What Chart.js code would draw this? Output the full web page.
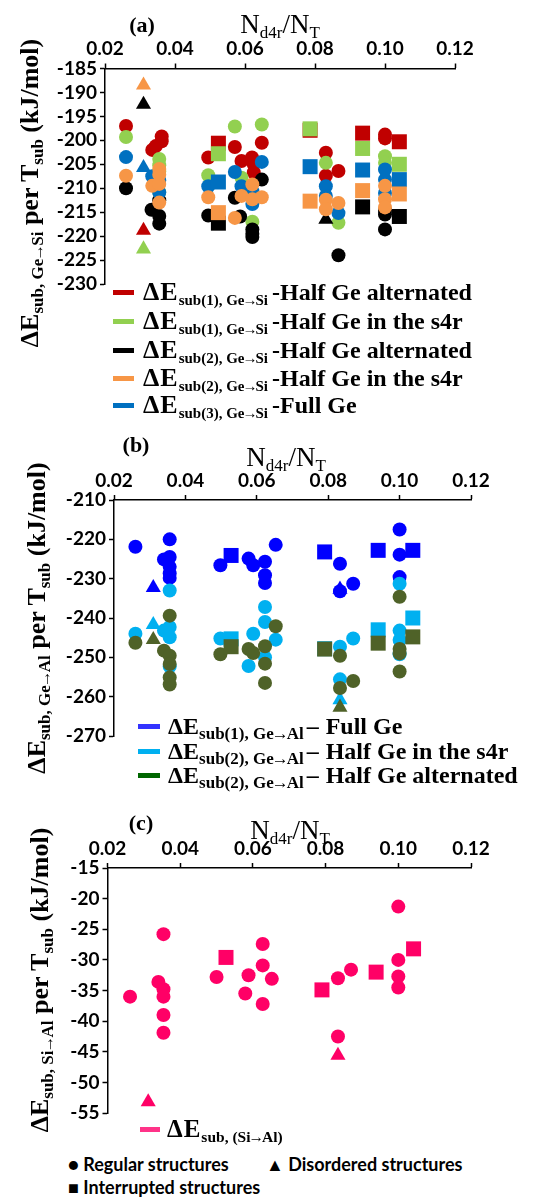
<!DOCTYPE html>
<html>
<head>
<meta charset="utf-8">
<script src="https://cdn.jsdelivr.net/npm/chart.js@4/dist/chart.umd.min.js"></script>
<style>
  body { margin: 0; background: #fff; }
  #page { position: relative; width: 537px; height: 1203px; overflow: hidden; }
  canvas { position: absolute; left: 0; }
  .t { position: absolute; white-space: nowrap; font-family: 'Liberation Serif', serif; color: #000; z-index: 2; }
  .t sub { vertical-align: -5px; line-height: 0; }
  .xt { font-size: 27px; transform: translate(-50%, -50%); }
  .xt sub { font-size: 17px; }
  .lab { font-size: 22px; font-weight: bold; transform: translate(-50%, -50%); }
  .yt { font-size: 26px; font-weight: bold; transform: translate(-50%, -50%) rotate(-90deg); }
  .yt sub { font-size: 17px; }
  .lg { position: absolute; height: 28px; line-height: 28px; white-space: nowrap;
        font-family: 'Liberation Serif', serif; font-weight: bold; z-index: 2; }
  .lg sub { font-size: 15px; vertical-align: -5px; line-height: 0; }
  .lg .de { font-size: 26px; letter-spacing: 1px; }
  .lg .rest { margin-left: 4px; }
  .lb sub { font-size: 17px; }
  .lb .de { font-size: 24px; letter-spacing: 0; }
  .lb .dash { margin-left: 3px; }
  .lb .rest { margin-left: 7px; }
  .ar { margin: 0 -2px; }
  .sw { display: inline-block; width: 21px; height: 5px; margin-right: 9px; vertical-align: 5px; }
  .mk { position: absolute; font-family: Lato, sans-serif; font-weight: bold; font-size: 18px; white-space: nowrap; }
</style>
</head>
<body>
<div id="page">
  <canvas id="chartA" width="537" height="300" style="top:0"></canvas>
  <canvas id="chartB" width="537" height="350" style="top:400px"></canvas>
  <canvas id="chartC" width="537" height="330" style="top:800px"></canvas>

  <!-- panel (a) -->
  <div class="t lab" style="left:142px; top:25px">(a)</div>
  <div class="t xt" style="left:280px; top:24px">N<sub>d4r</sub>/N<sub>T</sub></div>
  <div class="t yt" style="left:30px; top:193px">ΔE<sub>sub, Ge<span class="ar">→</span>Si</sub> per T<sub>sub</sub> (kJ/mol)</div>
  <div class="lg" style="left:113px; top:278px; font-size:24px"><span class="sw" style="background:#C00000"></span><span class="de">ΔE</span><sub>sub(1), Ge<span class="ar">→</span>Si</sub><span class="rest">-Half Ge alternated</span></div>
  <div class="lg" style="left:113px; top:307px; font-size:24px"><span class="sw" style="background:#92D050"></span><span class="de">ΔE</span><sub>sub(1), Ge<span class="ar">→</span>Si</sub><span class="rest">-Half Ge in the s4r</span></div>
  <div class="lg" style="left:113px; top:336px; font-size:24px"><span class="sw" style="background:#000"></span><span class="de">ΔE</span><sub>sub(2), Ge<span class="ar">→</span>Si</sub><span class="rest">-Half Ge alternated</span></div>
  <div class="lg" style="left:113px; top:364px; font-size:24px"><span class="sw" style="background:#F79646"></span><span class="de">ΔE</span><sub>sub(2), Ge<span class="ar">→</span>Si</sub><span class="rest">-Half Ge in the s4r</span></div>
  <div class="lg" style="left:113px; top:391px; font-size:24px"><span class="sw" style="background:#0070C0"></span><span class="de">ΔE</span><sub>sub(3), Ge<span class="ar">→</span>Si</sub><span class="rest">-Full Ge</span></div>

  <!-- panel (b) -->
  <div class="t lab" style="left:136px; top:445px">(b)</div>
  <div class="t xt" style="left:286px; top:457px">N<sub>d4r</sub>/N<sub>T</sub></div>
  <div class="t yt" style="left:37px; top:618px">ΔE<sub>sub, Ge<span class="ar">→</span>Al</sub> per T<sub>sub</sub> (kJ/mol)</div>
  <div class="lg lb" style="left:138px; top:712px; font-size:24px"><span class="sw" style="background:#3333FF; width:22px; margin-right:8px"></span><span class="de">ΔE</span><sub>sub(1), Ge<span class="ar">→</span>Al</sub><span class="dash">–</span><span class="rest">Full Ge</span></div>
  <div class="lg lb" style="left:138px; top:737px; font-size:24px"><span class="sw" style="background:#00B0F0; width:22px; margin-right:8px"></span><span class="de">ΔE</span><sub>sub(2), Ge<span class="ar">→</span>Al</sub><span class="dash">–</span><span class="rest">Half Ge in the s4r</span></div>
  <div class="lg lb" style="left:138px; top:761px; font-size:24px"><span class="sw" style="background:#006600; width:22px; margin-right:8px"></span><span class="de">ΔE</span><sub>sub(2), Ge<span class="ar">→</span>Al</sub><span class="dash">–</span><span class="rest">Half Ge alternated</span></div>

  <!-- panel (c) -->
  <div class="t lab" style="left:141px; top:823px">(c)</div>
  <div class="t xt" style="left:290px; top:830px">N<sub>d4r</sub>/N<sub>T</sub></div>
  <div class="t yt" style="left:40px; top:980px">ΔE<sub>sub, Si<span class="ar">→</span>Al</sub> per T<sub>sub</sub> (kJ/mol)</div>
  <div class="lg" style="left:140px; top:1115px; font-size:24px"><span class="sw" style="background:#FF3388; width:20px; margin-right:7px"></span><span class="de" style="font-size:25px">ΔE</span><sub style="font-size:15.5px">sub, (Si<span class="ar">→</span>Al)</sub></div>
  <div class="mk" style="left:68px; top:1153px">● Regular structures</div>
  <div class="mk" style="left:266px; top:1153px">▲ Disordered structures</div>
  <div class="mk" style="left:68px; top:1176px">■ Interrupted structures</div>
</div>

<script>
// [x = Nd4r/NT, y = energy, shape]  c = regular, t = disordered, s = interrupted
// panel (a) : Ge -> Si
const aSub1HalfAlt = [
    [0.026, -197.0, 'c'], [0.031, -218.8, 't'], [0.0362, -199.2, 'c'], [0.0362, -200.2, 'c'],
    [0.0345, -201.2, 'c'], [0.0335, -202.0, 'c'], [0.0495, -203.6, 'c'], [0.0524, -200.6, 's'],
    [0.0571, -201.4, 'c'], [0.059, -204.3, 'c'], [0.062, -203.6, 'c'], [0.0625, -205.0, 'c'],
    [0.0625, -206.7, 'c'], [0.0648, -200.5, 'c'], [0.0786, -197.9, 's'], [0.0831, -202.6, 'c'],
    [0.0831, -207.4, 'c'], [0.0867, -206.4, 'c'], [0.0936, -198.5, 's'], [0.100, -198.8, 'c'],
    [0.100, -199.6, 'c'], [0.1041, -200.3, 's']
];
const aSub1HalfS4r = [
    [0.026, -199.3, 'c'], [0.031, -222.7, 't'], [0.0355, -203.9, 'c'], [0.0355, -205.2, 'c'],
    [0.0355, -206.5, 'c'], [0.0355, -210.8, 'c'], [0.0495, -207.3, 'c'], [0.0524, -202.8, 's'],
    [0.0571, -197.1, 'c'], [0.059, -207.8, 'c'], [0.0621, -217.0, 'c'], [0.0648, -196.7, 'c'],
    [0.0786, -197.6, 's'], [0.0831, -204.7, 'c'], [0.0867, -217.2, 'c'], [0.0936, -201.7, 's'],
    [0.100, -203.3, 'c'], [0.100, -204.7, 'c'], [0.1041, -205.0, 's']
];
const aSub2HalfAlt = [
    [0.026, -210.0, 'c'], [0.031, -192.5, 't'], [0.0333, -214.5, 'c'], [0.0355, -212.5, 'c'],
    [0.0355, -215.8, 'c'], [0.0355, -217.4, 'c'], [0.0495, -215.7, 'c'], [0.0524, -217.3, 's'],
    [0.0571, -212.0, 'c'], [0.0586, -215.9, 'c'], [0.0621, -218.6, 'c'], [0.0621, -219.5, 'c'],
    [0.0621, -220.2, 'c'], [0.0648, -208.2, 'c'], [0.0831, -216.5, 't'], [0.0867, -224.0, 'c'],
    [0.0936, -213.9, 's'], [0.100, -214.7, 'c'], [0.100, -215.5, 'c'], [0.100, -218.6, 'c'],
    [0.1041, -215.9, 's']
];
const aSub2HalfS4r = [
    [0.026, -207.4, 'c'], [0.031, -188.5, 't'], [0.0355, -206.0, 'c'], [0.0355, -207.2, 'c'],
    [0.0335, -209.5, 'c'], [0.0355, -209.1, 'c'], [0.0355, -213.0, 'c'], [0.0495, -211.9, 'c'],
    [0.0524, -215.1, 's'], [0.0571, -216.2, 'c'], [0.059, -211.6, 'c'], [0.0621, -209.2, 'c'],
    [0.0621, -212.3, 'c'], [0.0648, -211.9, 'c'], [0.0786, -212.7, 's'], [0.0831, -212.4, 'c'],
    [0.0831, -214.4, 'c'], [0.0867, -213.1, 'c'], [0.0936, -210.5, 's'], [0.100, -209.5, 'c'],
    [0.100, -212.3, 'c'], [0.100, -214.0, 'c'], [0.1041, -211.2, 's']
];
const aSub3FullGe = [
    [0.026, -203.5, 'c'], [0.031, -205.7, 't'], [0.0335, -207.5, 'c'], [0.0355, -208.4, 'c'],
    [0.0355, -210.9, 'c'], [0.0495, -209.6, 'c'], [0.0524, -208.7, 's'], [0.0571, -206.6, 'c'],
    [0.059, -209.6, 'c'], [0.0621, -210.6, 'c'], [0.0621, -213.3, 'c'], [0.0648, -204.5, 'c'],
    [0.0786, -205.5, 's'], [0.0831, -209.6, 'c'], [0.0831, -211.6, 'c'], [0.0867, -215.2, 'c'],
    [0.0936, -206.2, 's'], [0.100, -206.1, 'c'], [0.100, -208.2, 'c'], [0.100, -211.0, 'c'],
    [0.1041, -208.2, 's']
];

// panel (b) : Ge -> Al
const bSub1FullGe = [
    [0.026, -221.9, 'c'], [0.031, -232.3, 't'], [0.0356, -220.0, 'c'], [0.034, -225.1, 'c'],
    [0.0356, -224.5, 'c'], [0.0356, -227.0, 'c'], [0.0356, -228.7, 'c'], [0.0356, -229.8, 'c'],
    [0.0498, -226.6, 'c'], [0.0528, -224.1, 's'], [0.0577, -224.9, 'c'], [0.059, -226.6, 'c'],
    [0.0623, -225.7, 'c'], [0.0623, -229.1, 'c'], [0.0623, -231.1, 'c'], [0.0653, -221.4, 'c'],
    [0.079, -223.2, 's'], [0.0833, -226.2, 'c'], [0.0833, -232.7, 't'], [0.0833, -233.2, 'c'],
    [0.087, -231.3, 'c'], [0.094, -222.8, 's'], [0.100, -217.5, 'c'], [0.100, -223.9, 'c'],
    [0.100, -229.6, 'c'], [0.1037, -222.8, 's']
];
const bSub2HalfS4r = [
    [0.026, -244.0, 'c'], [0.031, -241.7, 't'], [0.0356, -233.0, 'c'], [0.0356, -242.3, 'c'],
    [0.034, -243.2, 'c'], [0.0356, -244.9, 'c'], [0.0356, -252.3, 'c'], [0.0498, -245.2, 'c'],
    [0.0528, -245.3, 's'], [0.059, -244.0, 'c'], [0.0577, -252.2, 'c'], [0.0623, -237.2, 'c'],
    [0.0623, -241.0, 'c'], [0.0623, -250.0, 'c'], [0.0653, -245.5, 'c'], [0.079, -247.8, 's'],
    [0.0833, -247.3, 'c'], [0.087, -245.2, 'c'], [0.0833, -255.6, 'c'], [0.0833, -260.8, 't'],
    [0.094, -243.0, 's'], [0.100, -231.3, 'c'], [0.100, -243.2, 'c'], [0.100, -245.6, 'c'],
    [0.100, -249.2, 'c'], [0.1037, -240.0, 's']
];
const bSub2HalfAlt = [
    [0.026, -246.3, 'c'], [0.031, -245.5, 't'], [0.0356, -239.4, 'c'], [0.034, -248.3, 'c'],
    [0.0356, -249.6, 'c'], [0.0356, -251.7, 'c'], [0.0356, -255.1, 'c'], [0.0356, -256.9, 'c'],
    [0.0498, -249.2, 'c'], [0.0528, -247.3, 's'], [0.0577, -247.9, 'c'], [0.059, -248.9, 'c'],
    [0.0623, -247.2, 'c'], [0.0623, -251.6, 'c'], [0.0623, -256.5, 'c'], [0.0653, -242.1, 'c'],
    [0.079, -247.9, 's'], [0.0833, -249.6, 'c'], [0.0833, -257.8, 'c'], [0.087, -256.0, 'c'],
    [0.0833, -262.7, 't'], [0.094, -246.4, 's'], [0.100, -234.6, 'c'], [0.100, -247.9, 'c'],
    [0.100, -249.0, 'c'], [0.100, -253.6, 'c'], [0.1037, -244.8, 's']
];

// panel (c) : Si -> Al
const cSiAl = [
    [0.0262, -36.0, 'c'], [0.0312, -53.2, 't'], [0.034, -33.6, 'c'], [0.0354, -25.8, 'c'],
    [0.0354, -34.8, 'c'], [0.0354, -36.0, 'c'], [0.0354, -39.0, 'c'], [0.0354, -41.9, 'c'],
    [0.050, -32.8, 'c'], [0.0526, -29.6, 's'], [0.0579, -35.5, 'c'], [0.0588, -32.5, 'c'],
    [0.0627, -27.4, 'c'], [0.0627, -30.9, 'c'], [0.0627, -37.2, 'c'], [0.0652, -33.1, 'c'],
    [0.079, -34.9, 's'], [0.0834, -33.0, 'c'], [0.087, -31.6, 'c'], [0.0834, -42.5, 'c'],
    [0.0834, -45.6, 't'], [0.0939, -32.0, 's'], [0.100, -21.3, 'c'], [0.100, -30.0, 'c'],
    [0.100, -32.7, 'c'], [0.100, -34.5, 'c'], [0.1042, -28.2, 's']
];

const xTicks = [0.02, 0.04, 0.06, 0.08, 0.10, 0.12];

const shapes = { c: 'circle', t: 'triangle', s: 'rect' };
const sizes = { c: 7, t: 8.7, s: 10.6 };

Chart.defaults.font.family = 'Lato, sans-serif';
Chart.defaults.font.weight = 'bold';
Chart.defaults.font.size = 19;
Chart.defaults.color = '#000';

function series(arr, color, order) {
    return {
        data: arr.map(p => ({ x: p[0], y: p[1] })),
        pointStyle: arr.map(p => shapes[p[2]]),
        pointRadius: arr.map(p => sizes[p[2]]),
        backgroundColor: color,
        borderColor: color,
        pointBorderWidth: 0,
        showLine: false,
        order: order,
        clip: false
    };
}

function makeChart(id, datasets, yMin, yMax, yStep, box) {
    new Chart(document.getElementById(id), {
        type: 'scatter',
        data: { datasets: datasets },
        options: {
            responsive: false,
            animation: false,
            layout: { padding: { left: 0, top: 0, right: box.right, bottom: box.bottom } },
            plugins: { legend: { display: false }, tooltip: { enabled: false } },
            scales: {
                x: {
                    type: 'linear',
                    position: 'top',
                    min: 0.02,
                    max: 0.12,
                    afterBuildTicks: s => { s.ticks = xTicks.map(v => ({ value: v })); },
                    ticks: { callback: v => v.toFixed(2), padding: 3, maxRotation: 0, autoSkip: false },
                    grid: { drawOnChartArea: false, tickLength: 5, tickColor: '#000', tickWidth: 1.5 },
                    border: { color: '#000', width: 1.5 },
                    afterFit: s => { s.height = box.top; s.paddingLeft = 0; s.paddingRight = 0; }
                },
                y: {
                    min: yMin,
                    max: yMax,
                    ticks: { stepSize: yStep, padding: 3, autoSkip: false },
                    grid: { drawOnChartArea: false, tickLength: 5, tickColor: '#000', tickWidth: 1.5 },
                    border: { color: '#000', width: 1.5 },
                    afterFit: s => { s.width = box.left; s.paddingTop = 0; s.paddingBottom = 0; }
                }
            }
        }
    });
}

makeChart('chartA', [
    series(aSub1HalfAlt, '#C00000', 5),
    series(aSub1HalfS4r, '#92D050', 4),
    series(aSub2HalfAlt, '#000000', 3),
    series(aSub2HalfS4r, '#F79646', 1),
    series(aSub3FullGe, '#0070C0', 2)
], -230, -185, 5, { left: 105, top: 68.5, right: 82, bottom: 16 });

makeChart('chartB', [
    series(bSub1FullGe, '#0000FF', 3),
    series(bSub2HalfS4r, '#00B0F0', 2),
    series(bSub2HalfAlt, '#4F6228', 1)
], -270, -210, 10, { left: 114, top: 100, right: 66, bottom: 14 });

makeChart('chartC', [
    series(cSiAl, '#FF0066', 1)
], -55, -15, 5, { left: 107.5, top: 68, right: 66, bottom: 17 });
</script>
</body>
</html>
